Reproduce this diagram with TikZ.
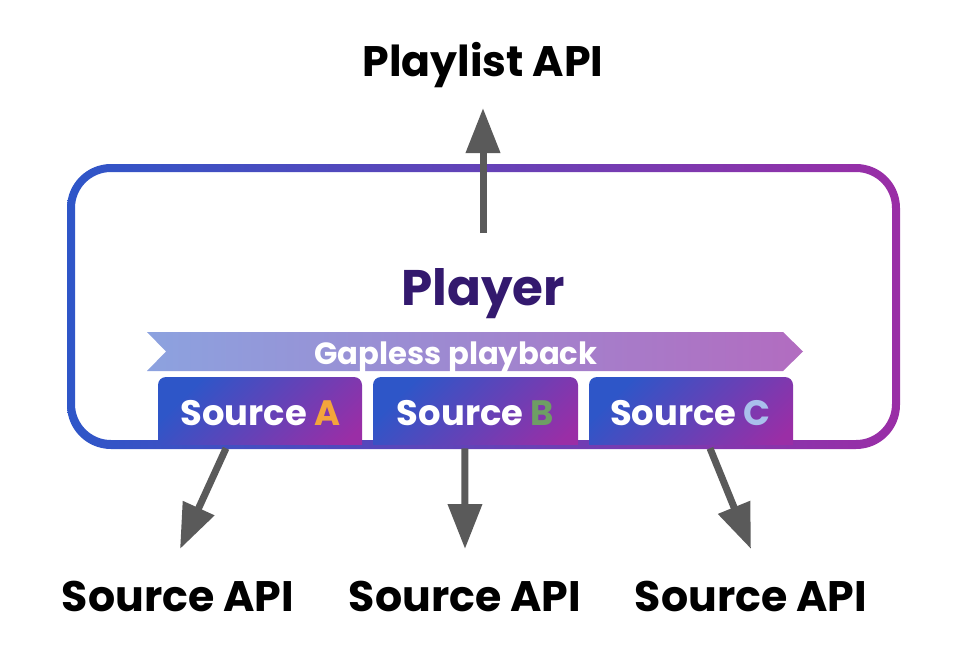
\documentclass[tikz,border=0pt]{standalone}
\usepackage{fontspec}
\setmainfont{Poppins}
\usetikzlibrary{arrows.meta,calc}
\definecolor{sblue}{HTML}{2E56C8}
\definecolor{spurp}{HTML}{9A2EA6}
\definecolor{bleft}{HTML}{8CA2DF}
\definecolor{bright}{HTML}{B26CC0}
\definecolor{ptext}{HTML}{33196E}
\definecolor{cA}{HTML}{F3A53B}
\definecolor{cB}{HTML}{6E9E64}
\definecolor{cC}{HTML}{A9C0EC}
\definecolor{agray}{HTML}{5A5A5A}
\begin{document}
\begin{tikzpicture}[x=0.75pt,y=-0.75pt,
  arr/.style={draw=agray, line width=5.25pt, -{Triangle[width=24.75pt,length=33.75pt]}},
  api/.style={font=\fontsize{32}{38}\selectfont\bfseries, text=black, inner sep=0pt, anchor=base},
  srclabel/.style={font=\fontsize{26.5}{32}\selectfont\bfseries, text=white, inner sep=0pt, anchor=base},
  srcbox/.style={minimum width=153pt, minimum height=50.25pt, inner sep=0pt},
  srcshade/.style={left color=sblue, right color=spurp, shading angle=45, rounded corners=6pt}]
\useasboundingbox (0,0) rectangle (968,650);
% outer player frame (gradient stroke)
\shade[left color=sblue, right color=spurp, even odd rule]
  [rounded corners=33pt] (67,164) rectangle (900,449)
  [rounded corners=27pt] (75,172) rectangle (892,440);
% banner
\shade[left color=bleft, right color=bright]
  (147,332) -- (783,332) -- (803,351.5) -- (783,371) -- (147,371) -- (166,351.5) -- cycle;
\node[font=\fontsize{23}{28}\selectfont\bfseries, text=white, inner sep=0pt, anchor=base] (gap) at (456,364) {Gapless playback};
% source boxes
\foreach \xl/\xr in {158/362, 373/578, 589/793}{
  \begin{scope}
    \clip (\xl-2,370) rectangle (\xr+2,444);
    \shade[srcshade] (\xl,377) rectangle (\xr,470);
  \end{scope}
}
\node[srcbox] (boxA) at (260,410.5) {};
\node[srcbox] (boxB) at (475.5,410.5) {};
\node[srcbox] (boxC) at (691,410.5) {};
\node[srclabel] (srcA) at (260.5,425.5) {Source \textcolor{cA}{A}};
\node[srclabel] (srcB) at (475.5,425.5) {Source \textcolor{cB}{B}};
\node[srclabel] (srcC) at (690.5,425.5) {Source \textcolor{cC}{C}};
% texts
\node[font=\fontsize{37.5}{45}\selectfont\bfseries, text=ptext, inner sep=0pt, anchor=base] (player) at (483,305) {Player};
\node[api] (playlist) at (483,76) {Playlist API};
\node[api] (apiA) at (178,611) {Source API};
\node[api] (apiB) at (465,611) {Source API};
\node[api] (apiC) at (751,611) {Source API};
% arrow ends
\coordinate (upS) at (483,233);
\coordinate (upT) at (483,108);
\coordinate (tA) at (180,549);
\coordinate (tB) at (465,549);
\coordinate (tC) at (751,549);
\draw[arr] (upS) -- (upT);
\draw[arr] ([xshift=-25.5pt,yshift=-3pt]boxA.south) -- (tA);
\draw[arr] ([xshift=-7.9pt,yshift=-3pt]boxB.south) -- (tB);
\draw[arr] ([xshift=14.25pt,yshift=-3pt]boxC.south) -- (tC);
\end{tikzpicture}
\end{document}
